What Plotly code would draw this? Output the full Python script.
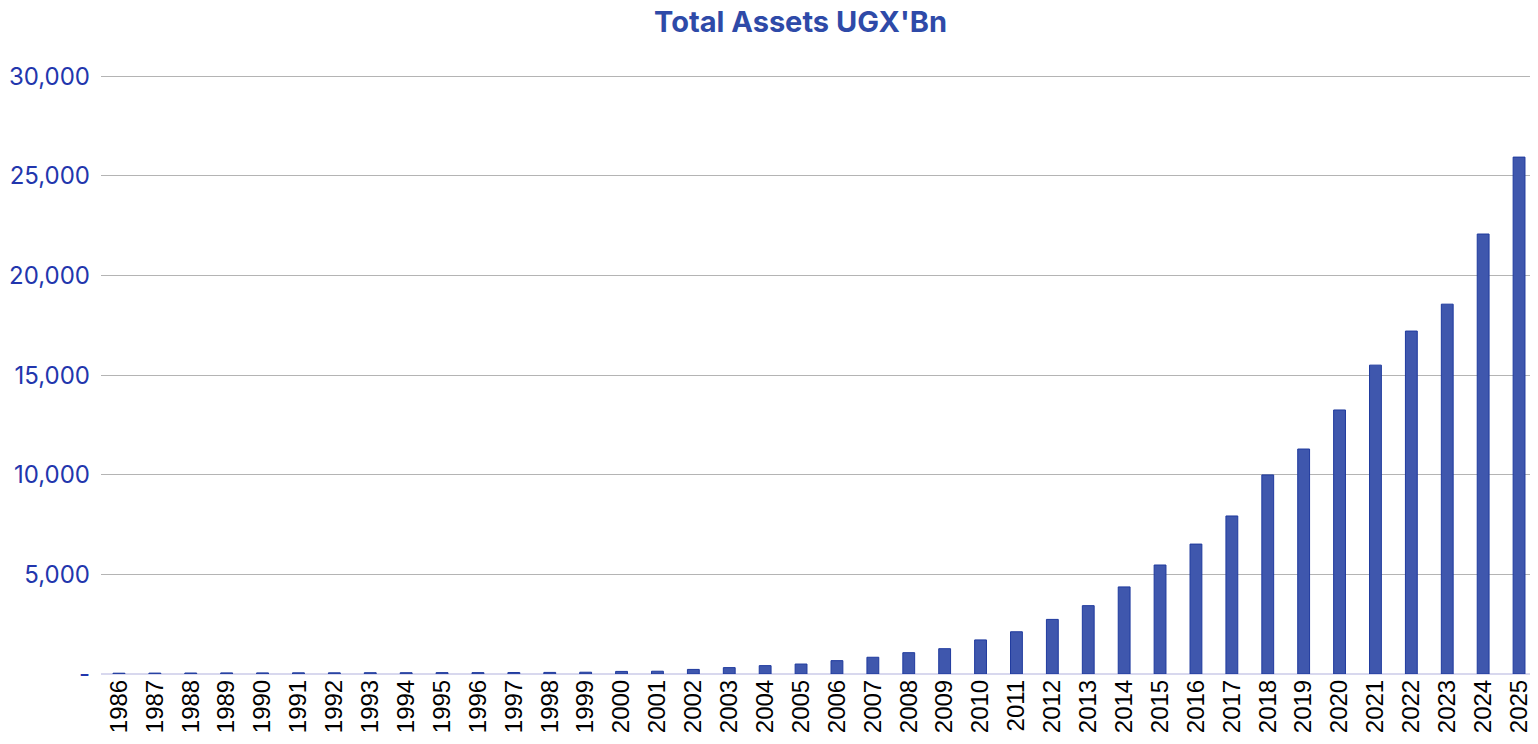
import plotly.graph_objects as go

# Data
years = [str(y) for y in range(1986, 2026)]
total_assets = [
    40, 45, 50, 55, 55, 60, 60, 65, 65, 70, 70, 75, 80, 90,       # 1986-1999
    130, 140, 230, 320, 420, 500, 670, 840, 1070, 1270,           # 2000-2009
    1710, 2120, 2740, 3430, 4370, 5470, 6520, 7930, 9990, 11290,  # 2010-2019
    13250, 15500, 17210, 18560, 22080, 25940,                     # 2020-2025
]
y_tick_vals = [0, 5000, 10000, 15000, 20000, 25000, 30000]
y_tick_text = ['-', '5,000', '10,000', '15,000', '20,000', '25,000', '30,000']

# Figure (page body adds an 8px margin, so size/offsets are reduced by 8)
fig = go.Figure()
fig.add_trace(go.Bar(x=years, y=total_assets,
                     marker=dict(color='#3f57ad', line=dict(color='#1f3a9e', width=1)),
                     width=0.33))

fig.update_layout(
    width=1530, height=736,
    margin=dict(l=89, r=1, t=67, b=70),
    paper_bgcolor='white', plot_bgcolor='white',
    showlegend=False,
    title=dict(text="<b>Total Assets UGX'Bn</b>", x=0.518, xanchor='center',
               y=1 - 14 / 736, yanchor='middle', yref='container',
               font=dict(family='Inter', size=29, color='#2e4aa8')),
)
fig.update_xaxes(type='category', tickangle=-90, showgrid=False,
                 showline=False, ticks='',
                 tickfont=dict(family='Liberation Sans', size=24, color='black'))
fig.update_yaxes(range=[0, 30060], tickvals=y_tick_vals, ticktext=y_tick_text,
                 showgrid=True, gridcolor='#b4b4b4', gridwidth=1,
                 zeroline=True, zerolinecolor='#d8d8ee', zerolinewidth=2,
                 showline=False, ticks='', ticklabelstandoff=10,
                 tickfont=dict(family='Inter', size=24, color='#2236ad'))

fig.write_html("out.html")
